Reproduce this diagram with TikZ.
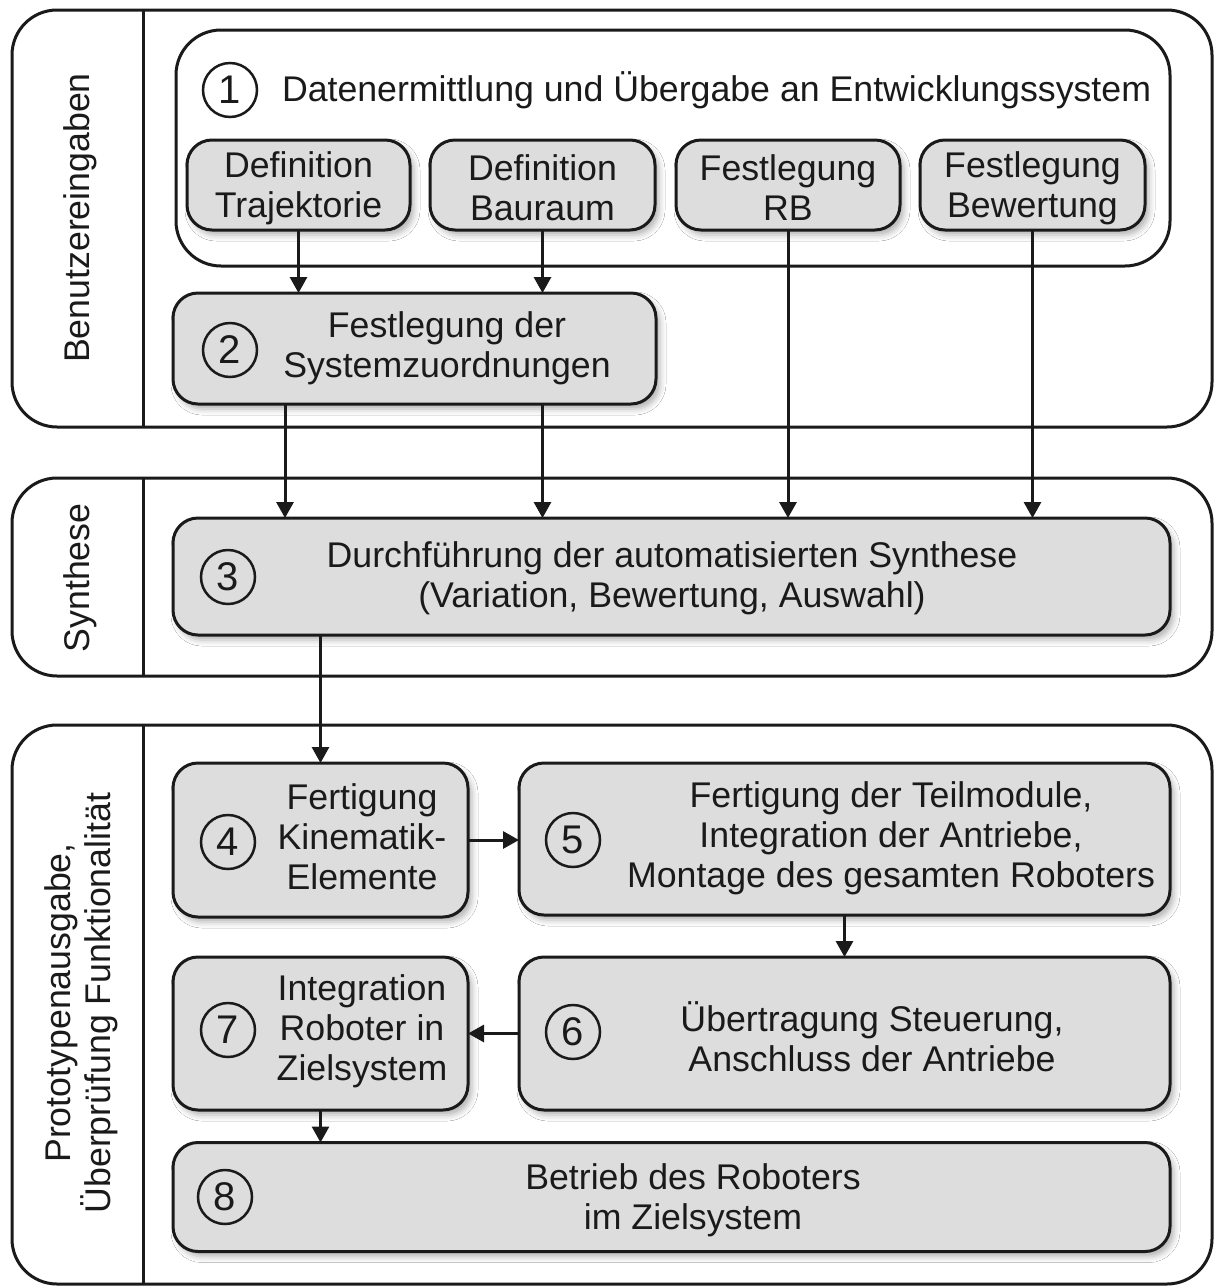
\documentclass[tikz,border=0pt]{standalone}
\usepackage{fontspec}
\setmainfont{Liberation Sans}
\usetikzlibrary{arrows.meta,shadows.blur}
\definecolor{boxgray}{HTML}{DDDDDD}
\definecolor{ink}{HTML}{1A1A1A}
\begin{document}
\begin{tikzpicture}[x=1pt,y=-1pt,
  every node/.style={font=\fontsize{35.7}{40}\selectfont, text=ink, inner sep=0pt, outer sep=0pt},
  lane/.style={draw=ink, line width=3pt, rounded corners=45pt},
  frame/.style={draw=ink, fill=white, line width=3pt, rounded corners=45pt},
  gbox/.style={draw=ink, fill=boxgray, line width=3pt, rounded corners=25pt,
    blur shadow={shadow xshift=4pt, shadow yshift=-5pt, shadow blur radius=6pt, shadow opacity=30}},
  num/.style={draw=ink, circle, line width=2.5pt, minimum size=54pt, font=\fontsize{40}{40}\selectfont},
  txt/.style={align=center, yshift=-3pt},
  arr/.style={draw=ink, line width=3pt, -{Triangle[length=16pt,width=17pt]}},
  lanelabel/.style={rotate=90, align=center}
]
% canvas
\path[fill=white] (0,0) rectangle (1214,1286);
\useasboundingbox (0,0) rectangle (1214,1286);

% swimlanes
\draw[lane] (12,10) rectangle (1212,427);
\draw[ink, line width=3pt] (143,10) -- (143,427);
\draw[lane] (12,478) rectangle (1212,676);
\draw[ink, line width=3pt] (143,478) -- (143,676);
\draw[lane] (12,725) rectangle (1212,1284);
\draw[ink, line width=3pt] (143,725) -- (143,1284);

\node[lanelabel] (lab1) at (80,218) {Benutzereingaben};
\node[lanelabel] (lab2) at (80,578) {Synthese};
\node[lanelabel] (lab3) at (81,1003) {Prototypenausgabe,\\Überprüfung Funktionalität};

% step 1: user inputs
\node[frame, minimum width=994pt, minimum height=236pt] (b1) at (673,148) {};
\node[num] (n1) at (230,90) {1};
\node[anchor=west] (t1) at (282,90) {Datenermittlung und Übergabe an Entwicklungssystem};

\node[gbox, minimum width=223pt, minimum height=90pt] (trj) at (298.5,185) {};
\node[txt] at (trj) {Definition\\Trajektorie};
\node[gbox, minimum width=225pt, minimum height=90pt] (bau) at (542.5,185) {};
\node[txt] at (bau) {Definition\\Bauraum};
\node[gbox, minimum width=224pt, minimum height=90pt] (rb) at (788,185) {};
\node[txt] at (rb) {Festlegung\\RB};
\node[gbox, minimum width=225pt, minimum height=90pt] (bew) at (1032.5,185) {};
\node[txt] at (bew) {Festlegung\\Bewertung};

% step 2
\node[gbox, minimum width=483pt, minimum height=111pt] (b2) at (414.5,348.5) {};
\node[num] (n2) at (230,350) {2};
\node[txt] at (447,345) {Festlegung der\\Systemzuordnungen};

% step 3
\node[gbox, minimum width=997pt, minimum height=117pt] (b3) at (671.5,576.5) {};
\node[num] (n3) at (228,577) {3};
\node[txt] at (672,575) {Durchführung der automatisierten Synthese\\(Variation, Bewertung, Auswahl)};

% steps 4 to 8
\node[gbox, minimum width=295pt, minimum height=154pt] (b4) at (320.5,840) {};
\node[num] (n4) at (228,842) {4};
\node[txt] at (362,834) {Fertigung\\Kinematik-\\Elemente};

\node[gbox, minimum width=651pt, minimum height=152pt] (b5) at (844.5,839) {};
\node[num] (n5) at (573,840) {5};
\node[txt] at (891,835) {Fertigung der Teilmodule,\\Integration der Antriebe,\\Montage des gesamten Roboters};

\node[gbox, minimum width=651pt, minimum height=153pt] (b6) at (844.5,1033.5) {};
\node[num] (n6) at (573,1032) {6};
\node[txt] at (872,1034) {Übertragung Steuerung,\\Anschluss der Antriebe};

\node[gbox, minimum width=295pt, minimum height=153pt] (b7) at (320.5,1033.5) {};
\node[num] (n7) at (228,1030) {7};
\node[txt] at (362,1028) {Integration\\Roboter in\\Zielsystem};

\node[gbox, minimum width=997pt, minimum height=109pt] (b8) at (671.5,1197) {};
\node[num] (n8) at (225,1197) {8};
\node[txt] at (693,1197) {Betrieb des Roboters\\im Zielsystem};

% connectors
\draw[arr] (trj.south) -- (trj.south |- b2.north);
\draw[arr] (bau.south) -- (bau.south |- b2.north);
\draw[arr] (rb.south) -- (rb.south |- b3.north);
\draw[arr] (bew.south) -- (bew.south |- b3.north);
\draw[arr] (b2.south -| 285,0) -- (b3.north -| 285,0);
\draw[arr] (b2.south -| bau.south) -- (b3.north -| bau.south);
\draw[arr] (b3.south -| b4.north) -- (b4.north);
\draw[arr] (b4.east) -- (b4.east -| b5.west);
\draw[arr] (b5.south) -- (b6.north);
\draw[arr] (b6.west) -- (b6.west -| b7.east);
\draw[arr] (b7.south) -- (b7.south |- b8.north);
\end{tikzpicture}
\end{document}
